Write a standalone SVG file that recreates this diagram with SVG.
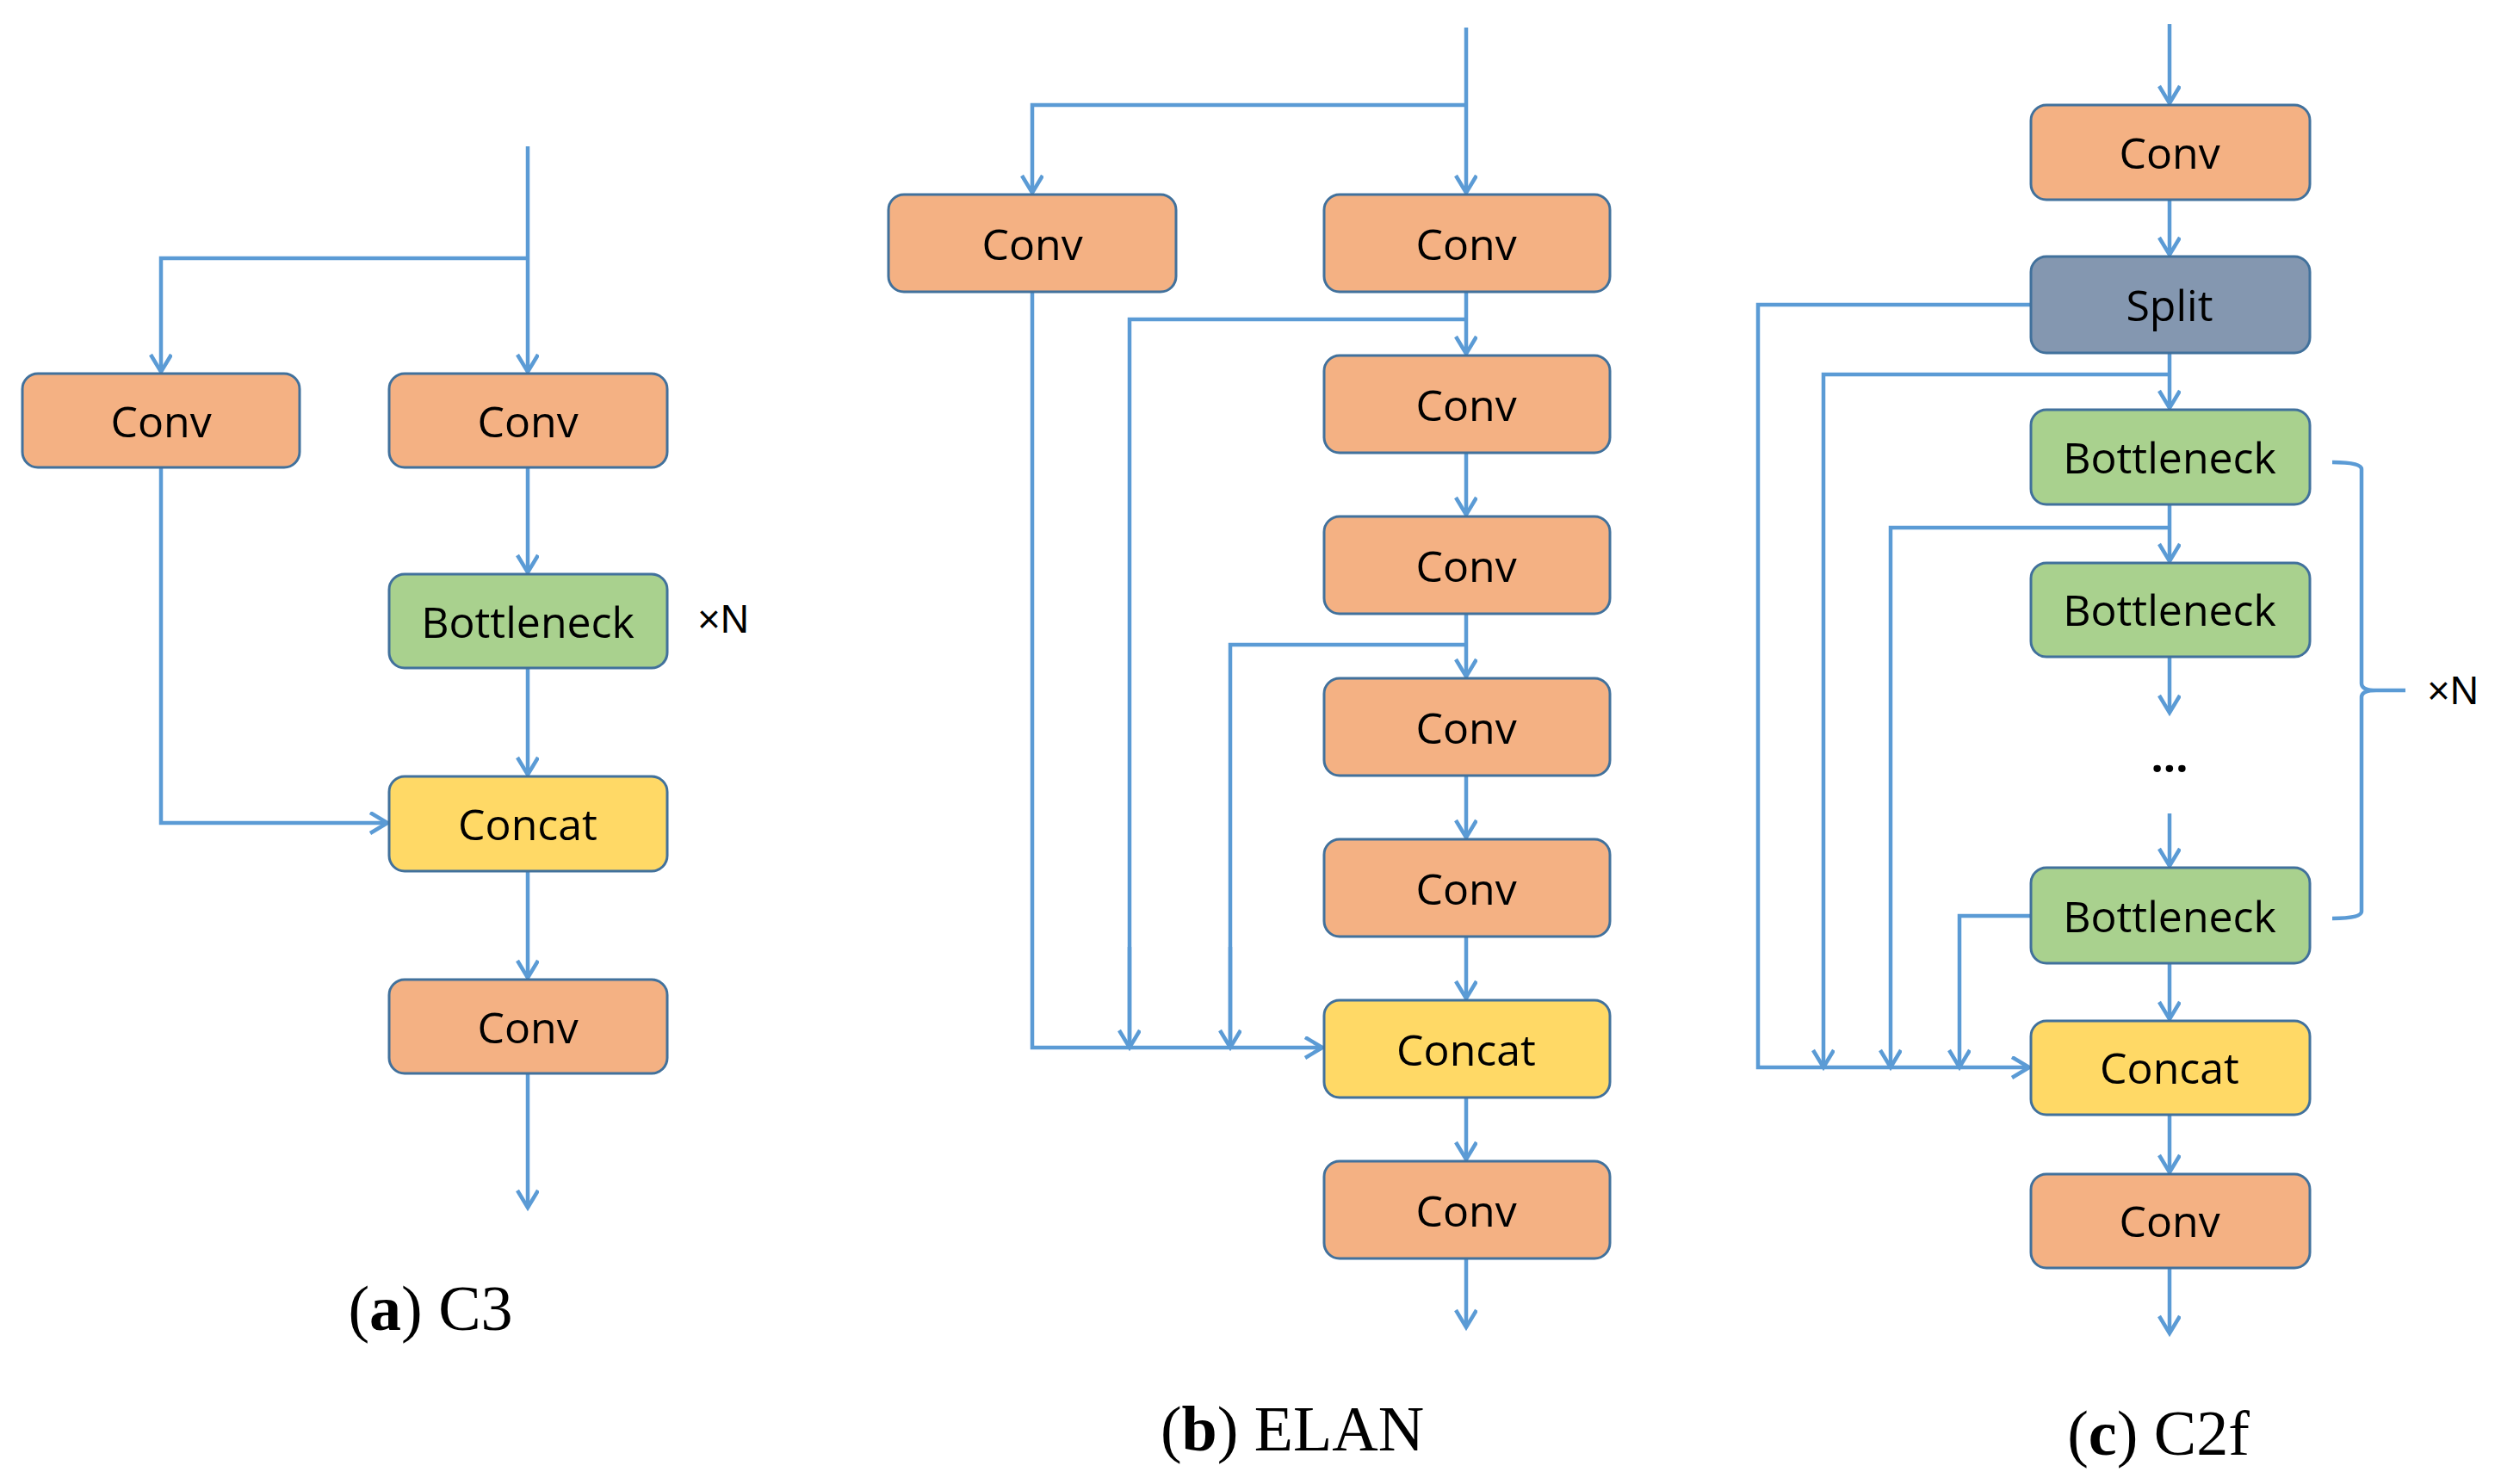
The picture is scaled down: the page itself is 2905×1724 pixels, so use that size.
<svg xmlns="http://www.w3.org/2000/svg" width="2905" height="1724" viewBox="0 0 2905 1724">
<style>
.b{stroke:#41719C;stroke-width:3}
.o{fill:#F4B183}.g{fill:#A9D18E}.y{fill:#FFD966}.s{fill:#8497B0}
.t{font-family:"Open Sans","DejaVu Sans",sans-serif;font-size:50px;fill:#000;text-anchor:middle;dominant-baseline:central}
.c{font-family:"Liberation Serif",serif;font-size:74px;fill:#000}
.l{fill:none;stroke:#5B9BD5;stroke-width:4.5}
.a{marker-end:url(#ar)}
</style>
<defs>
<marker id="ar" markerUnits="userSpaceOnUse" markerWidth="30" markerHeight="30" refX="22" refY="13" orient="auto">
<path d="M2,1 L22,13 L2,25" fill="none" stroke="#5B9BD5" stroke-width="4.5"/>
</marker>
</defs>
<rect width="2905" height="1724" fill="#fff"/>
<g id="connectors">
<!-- a -->
<path class="l a" d="M613,170 V432"/>
<path class="l a" d="M613,300 H187 V432"/>
<path class="l a" d="M613,543 V665"/>
<path class="l a" d="M613,776 V900"/>
<path class="l a" d="M187,543 V956 H450"/>
<path class="l a" d="M613,1012 V1136"/>
<path class="l a" d="M613,1247 V1403"/>
<!-- b -->
<path class="l a" d="M1703,32 V224"/>
<path class="l a" d="M1703,122 H1199 V224"/>
<path class="l a" d="M1703,339 V411"/>
<path class="l" d="M1703,371 H1312 V1217"/>
<path class="l a" d="M1312,1100 V1217"/>
<path class="l a" d="M1703,526 V598"/>
<path class="l a" d="M1703,713 V786"/>
<path class="l" d="M1703,749 H1429 V1217"/>
<path class="l a" d="M1429,1100 V1217"/>
<path class="l a" d="M1703,901 V973"/>
<path class="l a" d="M1703,1088 V1160"/>
<path class="l a" d="M1199,339 V1217 H1536"/>
<path class="l a" d="M1703,1275 V1347"/>
<path class="l a" d="M1703,1462 V1542"/>
<!-- c -->
<path class="l a" d="M2520,28 V120"/>
<path class="l a" d="M2520,232 V296"/>
<path class="l a" d="M2520,410 V474"/>
<path class="l a" d="M2520,586 V652"/>
<path class="l a" d="M2520,763 V828"/>
<path class="l a" d="M2520,945 V1006"/>
<path class="l a" d="M2520,1119 V1184"/>
<path class="l a" d="M2520,1295 V1362"/>
<path class="l a" d="M2520,1473 V1549"/>
<path class="l a" d="M2359,354 H2042 V1240 H2357"/>
<path class="l a" d="M2520,435 H2118 V1240"/>
<path class="l a" d="M2520,613 H2196 V1240"/>
<path class="l a" d="M2359,1064 H2276 V1240"/>
<path class="l" d="M2709,537 Q2743,537 2743,545 V794 Q2743,802 2760,802 H2794 M2760,802 Q2743,802 2743,810 V1059 Q2743,1067 2709,1067" stroke-width="3"/>
</g>
<g id="a_conv1"><rect class="b o" x="26" y="434" width="322" height="109" rx="18"/><text class="t" x="187" y="489">Conv</text></g>
<g id="a_conv2"><rect class="b o" x="452" y="434" width="323" height="109" rx="18"/><text class="t" x="613" y="489">Conv</text></g>
<g id="a_bott"><rect class="b g" x="452" y="667" width="323" height="109" rx="18"/><text class="t" x="613" y="722">Bottleneck</text></g>
<g id="a_xn"><text class="t" x="840" y="719" style="font-family:'Liberation Sans',sans-serif;font-size:46px">×N</text></g>
<g id="a_concat"><rect class="b y" x="452" y="902" width="323" height="110" rx="18"/><text class="t" x="613" y="957">Concat</text></g>
<g id="a_conv3"><rect class="b o" x="452" y="1138" width="323" height="109" rx="18"/><text class="t" x="613" y="1193">Conv</text></g>
<g id="a_cap"><text class="c" x="500" y="1545" text-anchor="middle">(<tspan font-weight="bold">a</tspan>)  C3</text></g>

<g id="b_conv0"><rect class="b o" x="1032" y="226" width="334" height="113" rx="18"/><text class="t" x="1199" y="283">Conv</text></g>
<g id="b_conv1"><rect class="b o" x="1538" y="226" width="332" height="113" rx="18"/><text class="t" x="1703" y="283">Conv</text></g>
<g id="b_conv2"><rect class="b o" x="1538" y="413" width="332" height="113" rx="18"/><text class="t" x="1703" y="470">Conv</text></g>
<g id="b_conv3"><rect class="b o" x="1538" y="600" width="332" height="113" rx="18"/><text class="t" x="1703" y="657">Conv</text></g>
<g id="b_conv4"><rect class="b o" x="1538" y="788" width="332" height="113" rx="18"/><text class="t" x="1703" y="845">Conv</text></g>
<g id="b_conv5"><rect class="b o" x="1538" y="975" width="332" height="113" rx="18"/><text class="t" x="1703" y="1032">Conv</text></g>
<g id="b_concat"><rect class="b y" x="1538" y="1162" width="332" height="113" rx="18"/><text class="t" x="1703" y="1219">Concat</text></g>
<g id="b_conv6"><rect class="b o" x="1538" y="1349" width="332" height="113" rx="18"/><text class="t" x="1703" y="1406">Conv</text></g>
<g id="b_cap"><text class="c" x="1501" y="1685" text-anchor="middle">(<tspan font-weight="bold">b</tspan>)  ELAN</text></g>

<g id="c_conv1"><rect class="b o" x="2359" y="122" width="324" height="110" rx="18"/><text class="t" x="2520" y="177">Conv</text></g>
<g id="c_split"><rect class="b s" x="2359" y="298" width="324" height="112" rx="18"/><text class="t" x="2520" y="354">Split</text></g>
<g id="c_b1"><rect class="b g" x="2359" y="476" width="324" height="110" rx="18"/><text class="t" x="2520" y="531">Bottleneck</text></g>
<g id="c_b2"><rect class="b g" x="2359" y="654" width="324" height="109" rx="18"/><text class="t" x="2520" y="708">Bottleneck</text></g>
<g id="c_dots"><text class="t" x="2520" y="878" style="font-weight:bold">...</text></g>
<g id="c_b3"><rect class="b g" x="2359" y="1008" width="324" height="111" rx="18"/><text class="t" x="2520" y="1064">Bottleneck</text></g>
<g id="c_concat"><rect class="b y" x="2359" y="1186" width="324" height="109" rx="18"/><text class="t" x="2520" y="1240">Concat</text></g>
<g id="c_conv2"><rect class="b o" x="2359" y="1364" width="324" height="109" rx="18"/><text class="t" x="2520" y="1418">Conv</text></g>
<g id="c_xn"><text class="t" x="2849" y="802" style="font-family:'Liberation Sans',sans-serif;font-size:46px">×N</text></g>
<g id="c_cap"><text class="c" x="2507" y="1690" text-anchor="middle">(<tspan font-weight="bold">c</tspan>)  C2f</text></g>
</svg>
